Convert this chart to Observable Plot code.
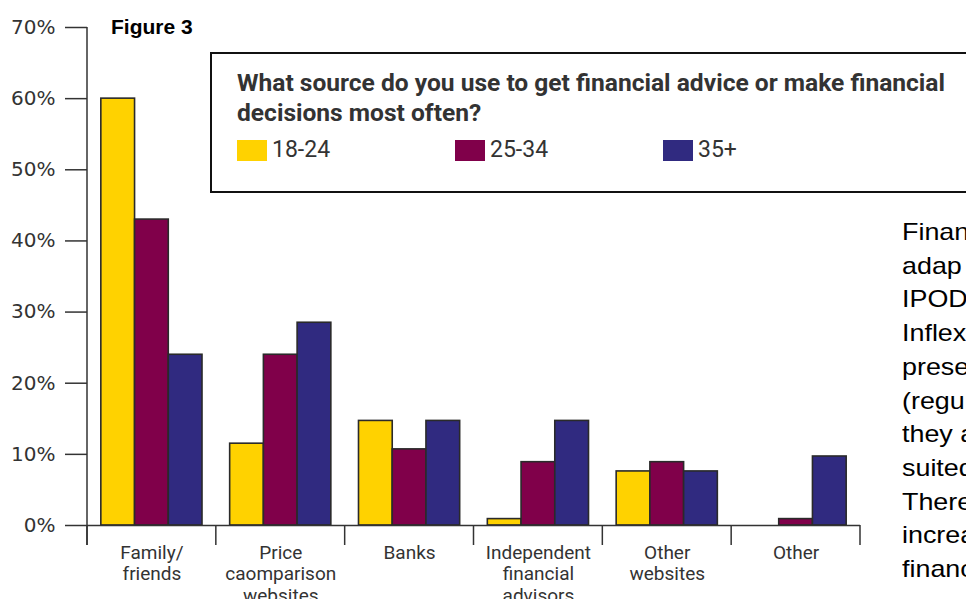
<!DOCTYPE html>
<html>
<head>
<meta charset="utf-8">
<script src="https://cdn.jsdelivr.net/npm/d3@7"></script>
<script src="https://cdn.jsdelivr.net/npm/@observablehq/plot@0.6"></script>
<style>
  html, body { margin: 0; padding: 0; background: #fff; overflow: hidden; }
  #wrap { position: relative; width: 966px; height: 599px; overflow: hidden; }
  #chart { position: absolute; left: 0; top: 0; }
  .fig { position: absolute; left: 111px; top: 15px; font: bold 21px "Liberation Sans", Arial, sans-serif; color: #000; }
  .box { position: absolute; left: 210px; top: 52px; width: 800px; height: 137px; border: 2px solid #111; box-sizing: content-box; }
  .title { position: absolute; left: 237px; top: 69px; font-family: Roboto, sans-serif; font-weight: bold; font-size: 24px; line-height: 29.5px; color: #333; white-space: nowrap; transform-origin: 0 0; }
  .title span { display: inline-block; }
  .sw { position: absolute; top: 140px; width: 30px; height: 21px; }
  .leglab { position: absolute; top: 136px; font-family: Roboto, sans-serif; font-size: 23px; line-height: 28px; color: #333; white-space: nowrap; }
  .side { position: absolute; left: 902px; top: 215px; font: 24px "Liberation Sans", Arial, sans-serif; line-height: 33.7px; color: #000; white-space: nowrap; transform: scaleX(1.12); transform-origin: 0 0; }
</style>
</head>
<body>
<div id="wrap">
  <div id="chart"></div>
  <div class="fig">Figure 3</div>
  <div class="box"></div>
  <div class="title" id="title"></div>
  <div id="legend"></div>
  <div class="side" id="side"></div>
</div>
<script>
const categories = ["Family/friends", "Price caomparison websites", "Banks", "Independent financial advisors", "Other websites", "Other"];
const categoryLabels = ["Family/\nfriends", "Price\ncaomparison\nwebsites", "Banks", "Independent\nfinancial\nadvisors", "Other\nwebsites", "Other"];
const ageGroups = ["18-24", "25-34", "35+"];
const values1824 = [60, 11.5, 14.7, 0.9, 7.6, 0];
const values2534 = [43, 24, 10.7, 8.9, 8.9, 0.9];
const values35plus = [24, 28.5, 14.7, 14.7, 7.6, 9.7];
const ageColors = ["#FFD200", "#80004A", "#302A80"];
const yTicks = [0, 10, 20, 30, 40, 50, 60, 70];
const titleLines = ["What source do you use to get financial advice or make financial", "decisions most often?"];
const sideLines = ["Finan", "adap", "IPOD", "Inflex", "prese", "(regu", "they a", "suited", "There", "increa", "financ"];

const series = [values1824, values2534, values35plus];
const data = categories.flatMap((c, i) => ageGroups.map((a, j) => ({category: c, age: a, value: series[j][i]})));

const plot = Plot.plot({
  width: 966,
  height: 599,
  marginTop: 27,
  marginBottom: 74,
  marginLeft: 87,
  marginRight: 106,
  style: {background: "transparent", overflow: "visible"},
  fx: {domain: categories, padding: 0, label: null, round: false},
  x: {domain: ageGroups, paddingInner: 0, paddingOuter: 0.41, axis: null, round: false},
  y: {domain: [0, 70], label: null},
  color: {domain: ageGroups, range: ageColors},
  marks: [
    Plot.barY(data, {fx: "category", x: "age", y: "value", fill: "age", stroke: "#2a2a2a", strokeWidth: 1.6}),
    Plot.ruleY([0], {stroke: "#333", strokeWidth: 1.5}),
    Plot.axisY({ticks: yTicks, tickSize: 22, tickPadding: 10, tickFormat: d => d + "%", fontSize: 20, fontFamily: "DejaVu Sans", fill: "#333", stroke: "#333", strokeWidth: 1.5, label: null}),
    Plot.axisFx({anchor: "bottom", tickSize: 0, tickPadding: 18, tickFormat: d => categoryLabels[categories.indexOf(d)], fontSize: 19, lineHeight: 1.13, fontFamily: "Roboto, sans-serif", fill: "#333", label: null})
  ]
});
document.getElementById("chart").appendChild(plot);

// axis line and category dividers drawn from the library's scales
const fx = plot.scale("fx");
const y = plot.scale("y");
const svg = d3.select(plot);
const g = svg.append("g").attr("stroke", "#333").attr("stroke-width", 1.5);
const y0 = y.apply(0);
const tickLen = 20;
g.append("line").attr("x1", fx.apply(categories[0])).attr("x2", fx.apply(categories[0]))
  .attr("y1", y.apply(70)).attr("y2", y0 + tickLen);
const bounds = categories.map(c => fx.apply(c)).concat([fx.apply(categories[categories.length - 1]) + fx.bandwidth]);
bounds.forEach(b => g.append("line").attr("x1", b).attr("x2", b).attr("y1", y0).attr("y2", y0 + tickLen));

// title, condensed to the reference's line length
const title = document.getElementById("title");
title.innerHTML = titleLines.map(t => `<span>${t}</span>`).join("<br>");
const firstW = title.querySelector("span").getBoundingClientRect().width;
title.style.transform = `scaleX(${708 / firstW})`;

// legend
const legendLeft = [237, 455, 663];
const legend = document.getElementById("legend");
ageGroups.forEach((a, i) => {
  const s = document.createElement("div");
  s.className = "sw";
  s.style.left = legendLeft[i] + "px";
  s.style.background = ageColors[i];
  legend.appendChild(s);
  const l = document.createElement("div");
  l.className = "leglab";
  l.style.left = (legendLeft[i] + 35) + "px";
  l.textContent = a;
  legend.appendChild(l);
});
document.getElementById("side").innerHTML = sideLines.join("<br>");
</script>
</body>
</html>
